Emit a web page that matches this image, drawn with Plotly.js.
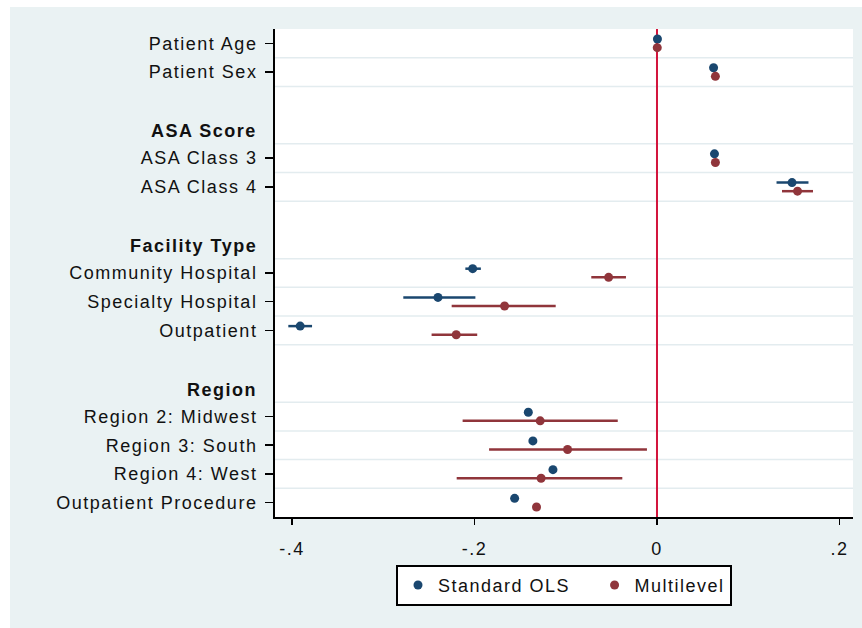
<!DOCTYPE html>
<html><head><meta charset="utf-8">
<script src="https://cdn.plot.ly/plotly-3.0.1.min.js"></script>
<style>
html,body{margin:0;padding:0;background:#ffffff;width:862px;height:628px;overflow:hidden;}
#chart{position:absolute;left:10px;top:7px;width:852px;height:621px;}
svg text{letter-spacing:1.5px;}
</style></head><body><div id="chart"></div>
<script>
// Row structure (blank strings are spacer rows)
const rowLabels = ["Patient Age","Patient Sex","","ASA Score","ASA Class 3","ASA Class 4","",
  "Facility Type","Community Hospital","Specialty Hospital","Outpatient","",
  "Region","Region 2: Midwest","Region 3: South","Region 4: West","Outpatient Procedure"];
const headerLabels = ["ASA Score","Facility Type","Region"];
const coefLabels = ["Patient Age","Patient Sex","ASA Class 3","ASA Class 4","Community Hospital",
  "Specialty Hospital","Outpatient","Region 2: Midwest","Region 3: South","Region 4: West","Outpatient Procedure"];

// Standard OLS estimates and 95% CI
const olsCoef = [0.0005, 0.062, 0.063, 0.148, -0.202, -0.240, -0.391, -0.141, -0.136, -0.114, -0.156];
const olsLow  = [0.0000, 0.060, 0.061, 0.131, -0.210, -0.278, -0.404, -0.145, -0.140, -0.118, -0.160];
const olsHigh = [0.0010, 0.064, 0.065, 0.166, -0.193, -0.199, -0.378, -0.137, -0.132, -0.110, -0.152];
// Multilevel estimates and 95% CI
const mlCoef = [0.0003, 0.064, 0.064, 0.154, -0.053, -0.167, -0.220, -0.128, -0.098, -0.127, -0.132];
const mlLow  = [-0.0002, 0.062, 0.062, 0.137, -0.072, -0.225, -0.247, -0.213, -0.184, -0.2195, -0.135];
const mlHigh = [0.0010, 0.066, 0.066, 0.171, -0.034, -0.111, -0.197, -0.043, -0.011, -0.038, -0.129];

const xTickVals = [-0.4, -0.2, 0, 0.2];
const xTickText = ["-.4", "-.2", "0", ".2"];
const seriesNames = ["Standard OLS", "Multilevel"];

const FONT = "Liberation Sans, Arial, sans-serif";
const coefRows = coefLabels.map(l => rowLabels.indexOf(l));

function makeTrace(name, coef, lo, hi, color, offset) {
  return {
    type: 'scatter', mode: 'markers', name: name,
    x: coef, y: coefRows.map(r => r + offset),
    marker: {color: color, size: 9, symbol: 'circle'},
    error_x: {type: 'data', symmetric: false,
      array: hi.map((h, i) => h - coef[i]),
      arrayminus: coef.map((c, i) => c - lo[i]),
      color: color, thickness: 2.5, width: 0},
    hoverinfo: 'x'
  };
}

const traces = [
  // trailing non-breaking spaces only widen the gap between legend entries
  makeTrace(seriesNames[0] + '\u00a0\u00a0\u00a0', olsCoef, olsLow, olsHigh, '#1a476f', -0.15),
  makeTrace(seriesNames[1], mlCoef, mlLow, mlHigh, '#90353b', 0.15)
];

// gridlines at the boundaries of each coefficient row
const gridSet = new Set();
coefRows.forEach(r => { gridSet.add(r - 0.5); gridSet.add(r + 0.5); });
const yMin = -0.5, yMax = rowLabels.length - 0.5;
const shapes = [];
[...gridSet].filter(v => v > yMin && v < yMax).forEach(v => shapes.push({
  type: 'line', xref: 'paper', x0: 0, x1: 1, yref: 'y', y0: v, y1: v,
  line: {color: '#e3ecef', width: 1.5}, layer: 'below'
}));
shapes.push({type: 'line', xref: 'x', x0: 0, x1: 0, yref: 'paper', y0: 0, y1: 1,
  line: {color: '#d3143c', width: 2}, layer: 'below'});

const annotations = headerLabels.map(h => ({
  xref: 'paper', x: 0, xanchor: 'right', xshift: -16,
  yref: 'y', y: rowLabels.indexOf(h), yanchor: 'middle', yshift: -2,
  text: '<b>' + h + '</b>', showarrow: false,
  font: {family: FONT, size: 18, color: '#111111'}
}));

const layout = {
  width: 852, height: 621,
  margin: {l: 265, r: 9, t: 22, b: 111, pad: 0},
  paper_bgcolor: '#eaf2f3', plot_bgcolor: '#ffffff',
  font: {family: FONT, size: 18, color: '#111111'},
  showlegend: true,
  xaxis: {
    range: [-0.4186, 0.2148], tickmode: 'array', tickvals: xTickVals, ticktext: xTickText,
    ticks: 'outside', ticklen: 6, tickwidth: 1.5, tickcolor: '#000',
    showline: true, linecolor: '#000', linewidth: 2,
    showgrid: false, zeroline: false, ticklabelstandoff: 8, fixedrange: true
  },
  yaxis: {
    range: [yMax, yMin], tickmode: 'array', tickvals: coefRows, ticktext: coefLabels,
    ticks: 'outside', ticklen: 8, tickwidth: 1.5, tickcolor: '#000',
    showline: true, linecolor: '#000', linewidth: 2,
    showgrid: false, zeroline: false, ticklabelstandoff: 4, fixedrange: true
  },
  legend: {
    orientation: 'h', x: 0.5, xanchor: 'center', y: -0.098, yanchor: 'top',
    bgcolor: '#ffffff', bordercolor: '#000', borderwidth: 2,
    font: {family: FONT, size: 18, color: '#111111'}
  },
  shapes: shapes,
  annotations: annotations
};

Plotly.newPlot('chart', traces, layout, {displayModeBar: false, staticPlot: true});
</script></body></html>
